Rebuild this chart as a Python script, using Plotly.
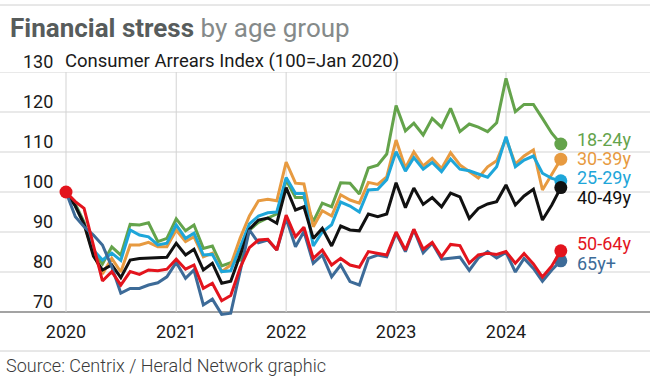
import plotly.graph_objects as go
import pandas as pd

# ---------------- data ----------------
months = pd.date_range("2020-01-01", periods=55, freq="MS")

series_names = ["18-24y", "30-39y", "25-29y", "40-49y", "50-64y", "65y+"]

age_18_24 = [100, 97, 92.5, 85, 82, 86.3, 84.2, 91.9, 91.75, 92.3, 87.6, 88.4, 93.3, 90.3, 91.75, 85.9, 86.5, 81.5, 82.3,
             83, 90.5, 92.4, 93.5, 94.5, 103, 98.6, 98.6, 92.6, 97.2, 96.3, 102.3, 102.2, 99.5, 106, 106.7, 109.5,
             121.6, 115.3, 117.2, 114.25, 118.4, 116.2, 120.9, 115.1, 117, 116.2, 115.1, 117.3, 128.4, 120.1, 121.9, 121.9, 118.4, 114.7, 112]
age_25_29 = [100, 96.5, 92, 85.5, 83, 84.7, 82.9, 90.5, 89.25, 88.8, 86.75, 87.2, 91.75, 88.4, 89.7, 84.25, 84.4, 80.1, 80.3,
             86, 92, 94, 94.8, 95, 103.6, 99.6, 99.6, 86.5, 90, 91.8, 97.5, 96.5, 95, 100.5, 100.7, 103.1,
             110.1, 105.2, 108.6, 105.7, 107.4, 105.1, 108.2, 105.7, 105.3, 104.5, 103.7, 106.3, 113.8, 106.3, 108, 109, 104.7, 103.4, 102.8]
age_30_39 = [100, 96.5, 92, 84.5, 79.5, 83.4, 80, 86.75, 86.75, 87.4, 86.3, 86.3, 90.5, 87.6, 88.8, 83.8, 84.7, 80.1, 81.75,
             88.4, 94, 97.8, 98.2, 97.8, 107.5, 102.2, 102, 91.3, 95.3, 94, 99.3, 98, 97.2, 102.4, 101.9, 103.8,
             113, 106, 110, 106.5, 108.4, 105.9, 109.8, 106.75, 105.1, 103.5, 106.3, 107.8, 113.4, 107, 109, 110.5, 100.5, 104.4, 108.2]
age_40_49 = [100, 96.5, 92, 84, 80.5, 81.75, 78.6, 83, 83.4, 83.5, 83.5, 83.7, 87.2, 84.25, 85.7, 80.5, 82.2, 77.2, 77.7,
             84.25, 90.7, 93, 93.5, 92.2, 101.1, 95.5, 96.3, 88.4, 90.9, 86.5, 91.5, 90.5, 90.3, 94.5, 93.8, 94.5,
             102.3, 96.1, 101, 96.9, 98.6, 96.3, 99.7, 98.8, 93.4, 95.9, 97, 97.6, 101.75, 96.75, 99, 100.7, 93, 96.75, 101.1]
age_50_64 = [100, 97.6, 95.9, 86.7, 77.75, 80.1, 76.75, 80.1, 79.4, 80.5, 80.3, 80.7, 83.2, 80.7, 81.75, 75.9, 77.2, 72.8, 74.1,
             81, 86.1, 88, 88.2, 85.5, 94.2, 88.8, 91.2, 83.4, 85.5, 81.75, 83.4, 81.75, 81.2, 85.1, 84.7, 84.25,
             90, 85.5, 90.7, 85.7, 87.4, 83.8, 86.9, 86.6, 82.2, 84.25, 84.7, 84.4, 85.1, 82.2, 84.6, 82, 78.75, 81.5, 85.3]
age_65_plus = [100, 93.8, 91.3, 89.25, 86.75, 81.3, 74.7, 75.9, 75.9, 76.75, 77.3, 78.8, 82.4, 78.4, 80.5, 71.75, 73.2, 69.4, 69.7,
               80, 90.5, 87.3, 88, 85.5, 93.4, 86.3, 90.1, 82.2, 84.25, 78.8, 81.75, 77.6, 76.75, 83.4, 84.25, 83.8,
               89.7, 85.1, 90.6, 84.8, 87.2, 83.2, 83.4, 83.7, 80.4, 83.5, 85.1, 83.5, 84.9, 80, 83.4, 80.9, 77.7, 80.5, 82.8]

y_ticks = [70, 80, 90, 100, 110, 120, 130]
year_ticks = ["2020", "2021", "2022", "2023", "2024"]

# ---------------- styling ----------------
W, H = 650, 379
T_PX, B_PX = 72, 318          # plot area top / bottom in pixels
Y_RANGE = [68.5, 130]
PLOT_H = B_PX - T_PX
FONT = "Roboto"

def py(px):
    return (B_PX - px) / PLOT_H

colors = {
    "18-24y": "#64a34b",
    "30-39y": "#e79a40",
    "25-29y": "#1ea6d9",
    "40-49y": "#111111",
    "50-64y": "#e3141d",
    "65y+": "#3d6b98",
}
values = {
    "18-24y": age_18_24,
    "30-39y": age_30_39,
    "25-29y": age_25_29,
    "40-49y": age_40_49,
    "50-64y": age_50_64,
    "65y+": age_65_plus,
}
label_y = {"18-24y": 113.25, "30-39y": 108.5, "25-29y": 103.75, "40-49y": 98.75, "50-64y": 87.25, "65y+": 82.25}

draw_order = ["18-24y", "30-39y", "25-29y", "40-49y", "65y+", "50-64y"]

fig = go.Figure()
n = len(months)
for name in draw_order:
    sizes = [0] * n
    sizes[-1] = 13
    if name == "50-64y":
        sizes[0] = 13
    fig.add_trace(go.Scatter(
        x=months, y=values[name], mode="lines+markers", name=name,
        line=dict(color=colors[name], width=3),
        marker=dict(size=sizes, color=colors[name], opacity=1, line=dict(width=0)),
        cliponaxis=False, showlegend=False, hoverinfo="skip",
    ))

# x-axis range so that Jan 2020 sits at x=66px with 110 px per year
days_per_px = 365.25 / 110
x0 = pd.Timestamp("2020-01-01") - pd.Timedelta(days=66 * days_per_px)
x1 = pd.Timestamp("2020-01-01") + pd.Timedelta(days=(W - 66) * days_per_px)
year_dates = [pd.Timestamp(f"{y}-01-01") for y in year_ticks]

shapes = []
# horizontal gridlines
for v in y_ticks[1:]:
    shapes.append(dict(type="line", xref="paper", yref="y", x0=0, x1=1, y0=v, y1=v,
                       line=dict(color="#d3d3d3", width=1), layer="below"))
# vertical gridlines
for d in year_dates:
    shapes.append(dict(type="line", xref="x", yref="y", x0=d, x1=d, y0=70, y1=130,
                       line=dict(color="#d3d3d3", width=1), layer="below"))
# baseline
shapes.append(dict(type="line", xref="paper", yref="y", x0=0, x1=1, y0=70, y1=70,
                   line=dict(color="#a3a3a3", width=2), layer="below"))
# top rule and source rule
shapes.append(dict(type="line", xref="paper", yref="paper", x0=0, x1=1, y0=py(5), y1=py(5),
                   line=dict(color="#d0d0d0", width=1)))
shapes.append(dict(type="line", xref="paper", yref="paper", x0=0, x1=1, y0=py(351), y1=py(351),
                   line=dict(color="#d0d0d0", width=1)))

annotations = []
# title
annotations.append(dict(
    xref="paper", yref="paper", x=8 / W, y=py(28), xanchor="left", yanchor="middle",
    text="<b><span style='color:#575c5c'>Financial stress</span></b><span style='color:#858a8a'> by age group</span>",
    showarrow=False, font=dict(family=FONT, size=26)))
# subtitle
annotations.append(dict(
    xref="paper", yref="paper", x=63 / W, y=py(61.5), xanchor="left", yanchor="middle",
    text="Consumer Arrears Index (100=Jan 2020)", showarrow=False,
    font=dict(family=FONT, size=18.5, color="#1a1a1a")))
# y tick labels above gridlines
for v in y_ticks:
    annotations.append(dict(
        xref="paper", yref="y", x=55 / W, y=v, yshift=10.5, xanchor="right", yanchor="middle",
        text=str(v), showarrow=False, font=dict(family=FONT, size=18, color="#1a1a1a")))
# end labels
for name in series_names:
    annotations.append(dict(
        xref="x", yref="y", x=months[-1], y=label_y[name], xshift=14, xanchor="left", yanchor="middle",
        text=name, showarrow=False, font=dict(family=FONT, size=18, color=colors[name])))
# source
annotations.append(dict(
    xref="paper", yref="paper", x=4 / W, y=py(365.5), xanchor="left", yanchor="middle",
    text="Source: Centrix / Herald Network graphic", showarrow=False,
    font=dict(family=FONT, size=18, color="#3a3a3a", weight=300)))

fig.update_layout(
    width=W, height=H,
    margin=dict(l=0, r=0, t=T_PX, b=H - B_PX, pad=0),
    paper_bgcolor="white", plot_bgcolor="white",
    xaxis=dict(type="date", range=[x0, x1], showgrid=False, zeroline=False, showline=False,
               tickvals=year_dates, ticktext=year_ticks, ticks="",
               tickfont=dict(family=FONT, size=18, color="#1a1a1a"), ticklabelstandoff=1),
    yaxis=dict(range=Y_RANGE, visible=False, showgrid=False, zeroline=False),
    shapes=shapes, annotations=annotations,
)

fig.write_html("out.html", config={"displayModeBar": False, "staticPlot": True},
               post_script="document.body.style.margin='0';document.body.style.overflow='hidden';")
